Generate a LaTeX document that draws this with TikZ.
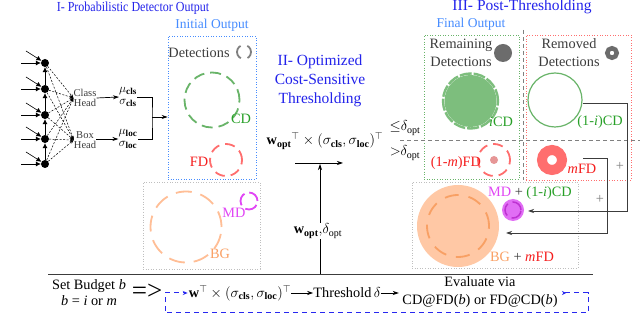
\documentclass[tikz,border=0pt]{standalone}
\usepackage{fontspec}
\setmainfont{Liberation Serif}
\newfontfamily\ttlnarrow[FakeStretch=0.87]{Liberation Serif}
\usetikzlibrary{arrows.meta}
\definecolor{tblue}{RGB}{35,35,235}
\definecolor{lblue}{RGB}{70,140,255}
\definecolor{dgray}{RGB}{60,60,60}
\definecolor{cdgreen}{RGB}{105,180,105}
\definecolor{cdlab}{RGB}{40,160,40}
\definecolor{cdfill}{RGB}{125,190,125}
\definecolor{fdred}{RGB}{255,110,110}
\definecolor{fdlab}{RGB}{245,30,30}
\definecolor{fdfill}{RGB}{230,150,150}
\definecolor{bgor}{RGB}{255,190,150}
\definecolor{bglab}{RGB}{250,160,100}
\definecolor{bgfill}{RGB}{255,200,165}
\definecolor{bgdash}{RGB}{248,160,100}
\definecolor{mdmag}{RGB}{225,70,245}
\definecolor{mdfill}{RGB}{225,110,245}
\definecolor{mddash}{RGB}{190,50,210}
\definecolor{loopblue}{RGB}{40,40,240}
\begin{document}
\begin{tikzpicture}[x=1pt,y=-1pt,
  txt/.style={font=\fontsize{14}{17}\selectfont, inner sep=0pt},
  ttl/.style={font=\fontsize{15.5}{19}\selectfont, text=tblue, inner sep=0pt},
  sub/.style={font=\fontsize{13.5}{16}\selectfont, text=lblue, inner sep=0pt},
  dot/.style={circle, fill=black, minimum size=8pt, inner sep=0pt},
  boxd/.style={draw, dotted, inner sep=0pt, line width=0.6pt},
  arr/.style={-{Stealth[length=6pt,width=4pt]}, line width=0.7pt},
  inarr/.style={-{Latex[length=5pt,width=5pt]}, line width=0.6pt},
  nndash/.style={-{Stealth[length=4pt,width=3pt]}, dash pattern=on 2pt off 1.5pt, line width=0.5pt},
  dcirc/.style={circle, inner sep=0pt, line width=1.8pt, dash pattern=on 11pt off 6pt},
  divider/.style={draw=gray, dash pattern=on 4pt off 3pt, line width=0.8pt},
  lbl/.style={font=\fontsize{14.3}{17}\selectfont, inner sep=0pt},
  small/.style={font=\fontsize{10.5}{10.5}\selectfont, inner sep=0pt, align=center, text=dgray},
]
\useasboundingbox[fill=white] (0,0) rectangle (640,336);

% ---------- titles ----------
\node[ttl, font=\ttlnarrow\fontsize{13.8}{15}\selectfont] (t1) at (133,8) {I- Probabilistic Detector Output};
\node[sub] (t1s) at (212,25) {Initial Output};
\node[ttl, align=center] (t2) at (320,81) {II- Optimized\\Cost-Sensitive\\Thresholding};
\node[ttl] (t3) at (522,7) {III- Post-Thresholding};
\node[sub] (t3s) at (471,24) {Final Output};

% ---------- neural net ----------
\node[small] (ch) at (85,98) {Class\\Head};
\node[small] (bh) at (85,140) {Box\\Head};
\foreach \i/\y in {1/63,2/89,3/115,4/139,5/164}{
  \node[dot] (n\i) at (45,\y) {};
  \coordinate (h\i) at (21,\y);
  \coordinate (g\i) at (26,\y-12);
  \draw[inarr] (h\i) -- (n\i);
  \draw[inarr] (g\i) -- (n\i);
  \draw[nndash] (n\i) -- (ch.west);
  \draw[nndash] (n\i) -- (bh.west);
}
\draw[inarr] (n5) -- (n4);
\draw[inarr] (n4) -- (n3);
\draw[inarr] (n3) -- (n2);
\draw[inarr] (n2) -- (n1);

\node[font=\fontsize{13}{12.5}\selectfont, align=center, inner sep=0pt] (mucls) at (128,97) {$\mu_{\mathbf{cls}}$\\$\sigma_{\mathbf{cls}}$};
\node[font=\fontsize{13}{12.5}\selectfont, align=center, inner sep=0pt] (muloc) at (128,139) {$\mu_{\mathbf{loc}}$\\$\sigma_{\mathbf{loc}}$};
\draw[arr] (ch.east) -- (mucls.west);
\draw[arr] (bh.east |- muloc.west) -- (muloc.west);
\coordinate (bk) at (152,117);
\draw[line width=0.8pt] (mucls.east) -| (bk) |- (muloc.east);

% ---------- initial output ----------
\node[boxd, draw=lblue, minimum width=88pt, minimum height=143pt] (initbox) at (212,107.5) {};
\draw[arr] (bk) -- (initbox.west |- bk);
\node[lbl, text=dgray] (det) at (199,53) {Detections};
\node[circle, inner sep=0pt, minimum size=14pt, draw=gray, line width=1.8pt, dash pattern=on 15pt off 7pt, dash phase=7.5pt] (detc) at (244,52) {};
\node[dcirc, draw=cdgreen, minimum size=55pt] (cd) at (212,100) {};
\node[lbl, text=cdlab] (cdl) at (241,119) {CD};
\node[dcirc, draw=fdred, minimum size=32pt, dash pattern=on 10pt off 6pt] (fd) at (226,160) {};
\node[lbl, text=fdlab] (fdl) at (199,162) {FD};

\node[boxd, draw=lightgray, minimum width=117pt, minimum height=87pt] (bgbox) at (201.5,225.5) {};
\node[dcirc, draw=bgor, minimum size=71pt, dash pattern=on 16pt off 9pt] (bg) at (186,227) {};
\node[lbl, text=bglab] (bgl) at (220,254) {BG};
\node[dcirc, draw=mdmag, minimum size=17pt, dash pattern=on 13pt off 5pt] (md) at (249,201) {};
\node[lbl, text=mdmag] (mdl) at (234,213) {MD};

% ---------- middle ----------
\node[lbl] (form) at (325,141) {$\mathbf{w}_{\mathbf{opt}}{}^{\top}\times(\sigma_{\mathbf{cls}},\sigma_{\mathbf{loc}})^{\top}$};
\node[lbl] (le) at (405,128) {${\leq}\delta_{\mathrm{opt}}$};
\node[lbl] (gt) at (405,153) {${>}\delta_{\mathrm{opt}}$};
\coordinate (ha) at (295,163);
\coordinate (hb) at (343,163);
\draw[arr] (ha) -- (hb);
\coordinate (vb) at (320,274);
\coordinate (vt) at (320,164);
\draw[arr] (vb) -- (vt);
\node[lbl, fill=white, inner sep=1pt] (wd) at (318,231) {$\mathbf{w}_{\mathbf{opt}},\!\delta_{\mathrm{opt}}$};

% ---------- right ----------
\node[boxd, draw=cdgreen, minimum width=95pt, minimum height=144pt] (gbox) at (471.5,107) {};
\node[boxd, draw=fdred, minimum width=105pt, minimum height=145pt] (rbox) at (578.5,107.5) {};
\coordinate (dh1) at (400,140);
\coordinate (dh2) at (640,140);
\draw[divider] (dh1) -- (dh2);
\coordinate (dv1) at (523,30);
\coordinate (dv2) at (523,180);
\draw[divider] (dv1) -- (dv2);

\node[lbl, text=dgray, align=center, font=\fontsize{14.3}{18}\selectfont] (rem) at (461,53) {Remaining\\Detections};
\node[circle, fill=gray!85!black, minimum size=18pt, inner sep=0pt] (remc) at (503,53) {};
\node[lbl, text=dgray, align=center, font=\fontsize{14.3}{18}\selectfont] (rmv) at (569,53) {Removed\\Detections};
\node[circle, draw=gray!85!black, line width=4.5pt, minimum size=9.5pt, inner sep=0pt] (rmvc) at (612,53) {};

\node[circle, fill=cdfill, minimum size=52pt, inner sep=0pt] (icd) at (470.5,101) {};
\node[dcirc, draw=cdfill, line width=2.4pt, minimum size=55pt, dash pattern=on 12pt off 2pt] (icdd) at (470.5,101) {};
\node[lbl, text=cdlab] (icdl) at (501,122) {\textit{i}CD};

\node[circle, draw=cdgreen, line width=1.2pt, minimum size=54pt, inner sep=0pt] (ncd) at (555,100) {};
\node[lbl, text=cdlab] (ncdl) at (600,122) {(1-\textit{i})CD};

\node[dcirc, draw=fdred, minimum size=32pt, dash pattern=on 10pt off 6pt] (nfd) at (494,160) {};
\node[circle, fill=fdfill, minimum size=8pt, inner sep=0pt] (nfdc) at (494,160) {};
\node[lbl, text=fdlab] (nfdl) at (456,163) {(1-\textit{m})FD};

\node[circle, draw=fdred, line width=10pt, minimum size=20pt, inner sep=0pt] (mfd) at (552,160) {};
\node[lbl, text=fdlab] (mfdl) at (582,169) {\textit{m}FD};

\node[boxd, draw=lightgray, minimum width=166pt, minimum height=86pt] (brbox) at (495,225) {};
\node[circle, fill=bgfill, minimum size=82pt, inner sep=0pt] (big) at (458,226) {};
\node[dcirc, draw=bgdash, minimum size=62pt, dash pattern=on 14pt off 10pt] (bigd) at (458,226) {};
\node[circle, fill=mdfill, minimum size=22pt, inner sep=0pt] (mdr) at (513,210) {};
\node[dcirc, draw=mddash, line width=1.5pt, minimum size=16pt, dash pattern=on 13pt off 5pt] (mdrd) at (513,210) {};
\node[lbl] (mdrl) at (530,193) {\textcolor{mdmag}{MD} \textcolor{dgray}{+} \textcolor{cdlab}{(1-\textit{i})CD}};
\node[lbl] (bgrl) at (522,257) {\textcolor{bglab}{BG} \textcolor{dgray}{+} \textcolor{fdlab}{\textit{m}FD}};

\coordinate (c1) at (583,103);
\coordinate (c2) at (627,103);
\coordinate (c3) at (528,211);
\draw[arr, draw=dgray] (c1) -- (c2) |- (c3);
\coordinate (m1) at (583,158);
\coordinate (m2) at (607,158);
\coordinate (m3) at (506,233);
\draw[arr, draw=dgray] (m1) -- (m2) |- (m3);
\node[lbl, text=gray] (p1) at (620,166) {+};
\node[lbl, text=gray] (p2) at (600,199) {+};

% ---------- bottom ----------
\coordinate (bl1) at (48,274);
\coordinate (bl2) at (593,274);
\draw[line width=0.8pt, draw=dgray] (bl1) -- (bl2);
\node[lbl, align=center, font=\fontsize{14.3}{16}\selectfont] (budget) at (89,293) {Set Budget \textit{b}\\\textit{b} = \textit{i} or \textit{m}};
\node[inner sep=0pt, font=\fontsize{27}{27}\selectfont] (imp) at (147,292) {=>};
\node[lbl] (wt) at (240,293) {$\mathbf{w}^{\top}\times(\sigma_{\mathbf{cls}},\sigma_{\mathbf{loc}})^{\top}$};
\node[lbl] (thr) at (347,293) {Threshold\,$\delta$};
\node[lbl, align=center, font=\fontsize{14.3}{18}\selectfont] (eval) at (480,292) {Evaluate via\\CD@FD(\textit{b}) or FD@CD(\textit{b})};
\draw[arr] (wt.east) -- (thr.west);
\draw[arr] (thr.east) -- ++(18,0);
\coordinate (l1) at (562,293);
\coordinate (l2) at (588,293);
\coordinate (l3) at (588,313);
\coordinate (l4) at (165,313);
\coordinate (l5) at (165,293);
\draw[draw=loopblue, line width=1pt, dash pattern=on 5pt off 4pt, {Stealth[reversed,length=4pt,width=4pt]}-{Stealth[length=5pt,width=4pt]}] (l1) -- (l2) -- (l3) -- (l4) -- (l5) -- ([xshift=-1pt]wt.west);
\end{tikzpicture}
\end{document}
